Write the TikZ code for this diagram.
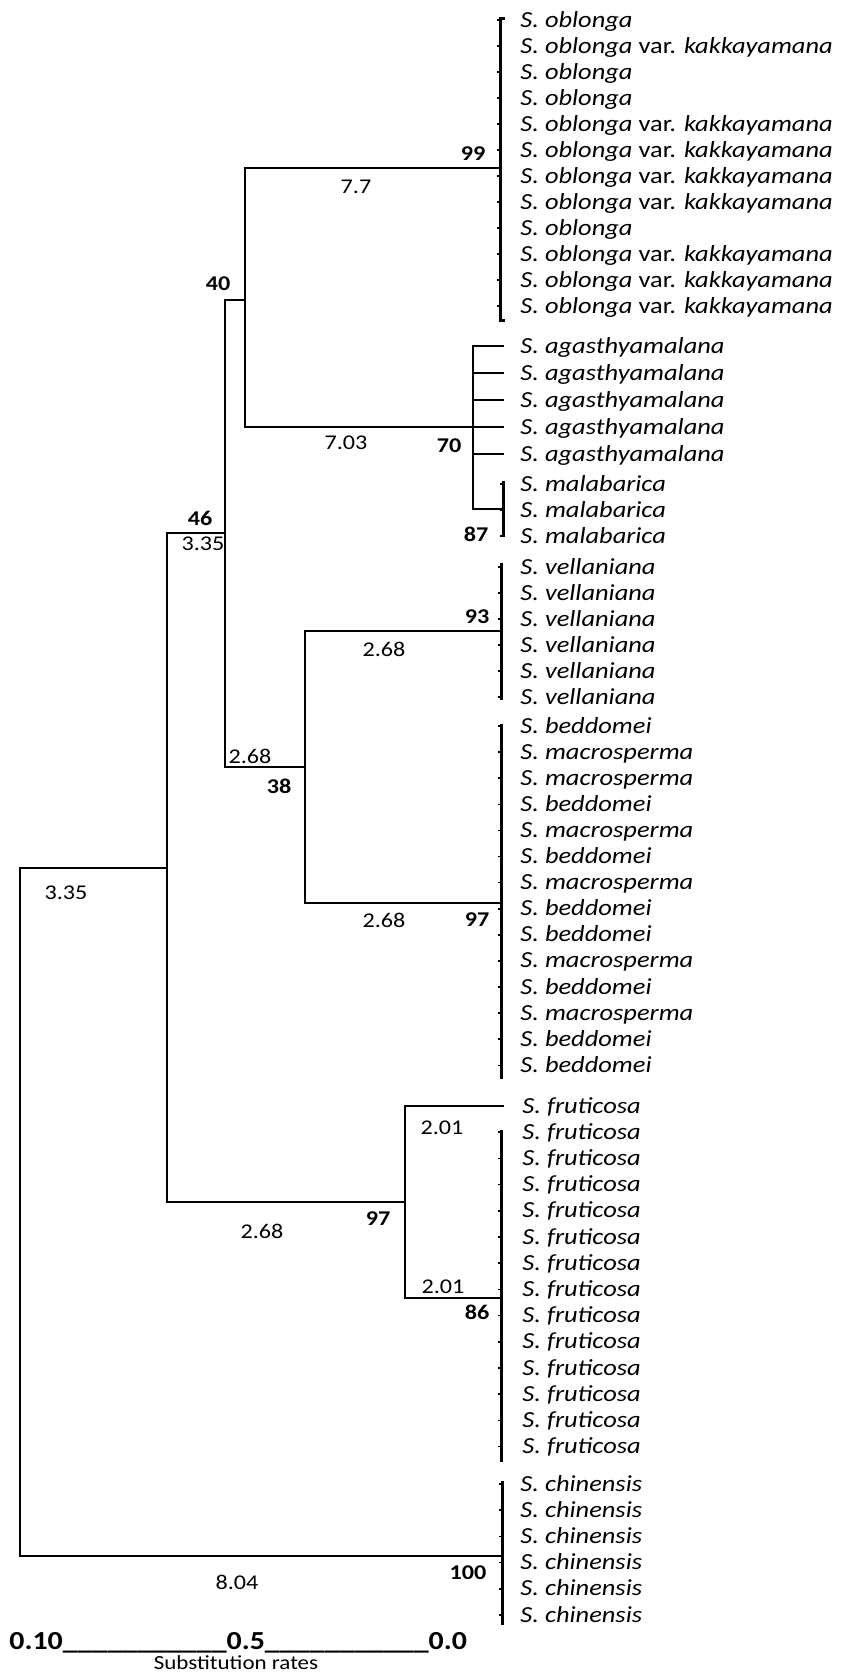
\documentclass[tikz,border=0pt]{standalone}
\usepackage{fontspec}
\setmainfont[FakeStretch=1.15]{Carlito}
\usetikzlibrary{calc}
\newcommand{\sobl}{\textit{S. oblonga}}
\newcommand{\skak}{\textit{S. oblonga} var. \textit{kakkayamana}}
\newcommand{\sbed}{\textit{S. beddomei}}
\newcommand{\smac}{\textit{S. macrosperma}}

\begin{document}
\begin{tikzpicture}[
  x=0.5pt, y=-0.5pt,
  branch/.style={line width=1pt, black},
  bar/.style={line width=1.5pt, black},
  tick/.style={line width=0.8pt, black},
  taxon/.style={anchor=base west, inner sep=0pt, font=\fontsize{11.5}{13}\selectfont},
  blen/.style={inner sep=0pt, font=\fontsize{10.5}{12}\selectfont},
  boot/.style={inner sep=0pt, font=\fontsize{10.5}{12}\selectfont\bfseries}
]
\useasboundingbox (0,0) rectangle (841,1672);

% internal nodes
\coordinate (root) at (20,1212);
\coordinate (nA) at (167,868);
\coordinate (chin) at (502,1556);
\coordinate (n46) at (225,533);
\coordinate (nB) at (405,1202);
\coordinate (n40) at (245,300);
\coordinate (n38) at (305,767);
\coordinate (n99) at (500,168);
\coordinate (n70) at (473,427);
\coordinate (n93) at (501,631);
\coordinate (n97) at (501,903);
\coordinate (n87) at (503,509);
\coordinate (n86) at (501,1298);
\coordinate (fru1) at (504,1106);

% bars
\coordinate (ob-top) at (500,18);   \coordinate (ob-bot) at (500,320);
\coordinate (ma-top) at (503,481);  \coordinate (ma-bot) at (503,537);
\coordinate (ve-top) at (501,563);  \coordinate (ve-bot) at (501,700);
\coordinate (be-top) at (501,724);  \coordinate (be-bot) at (501,1079);
\coordinate (fr-top) at (501,1130); \coordinate (fr-bot) at (501,1462);
\coordinate (ch-top) at (502,1481); \coordinate (ch-bot) at (502,1625);

\draw[bar] ($(ob-top)+(5,0)$) -- (ob-top) -- (ob-bot) -- ++(5,0);
\draw[bar] (ma-top) -- (ma-bot);
\draw[bar] (ve-top) -- (ve-bot);
\draw[bar] (be-top) -- (be-bot);
\draw[bar] (fr-top) -- (fr-bot);
\draw[bar] (ch-top) -- (ch-bot);

% branches
\draw[branch] (nA) -| (root) |- (chin);
\draw[branch] (n46) -| (nA) |- (nB);
\draw[branch] (n40) -| (n46) |- (n38);
\draw[branch] (n99) -| (n40) |- (n70);
\draw[branch] (n93) -| (n38) |- (n97);
\draw[branch] (fru1) -| (nB) |- (n86);

% taxa
\foreach \lab [count=\i] in {\sobl,\skak,\sobl,\sobl,\skak,\skak,\skak,\skak,\sobl,\skak,\skak,\skak} {
  \node[taxon] (ob\i) at (520,{20+26*(\i-1)+7}) {\lab};
  \draw[tick] ($(ob\i.base -| ob-top)+(-3,-7)$) -- ++(3,0);
}
\foreach \i in {1,...,5} {
  \coordinate (ag\i) at (504,{346+27*(\i-1)});
  \node[taxon] (agl\i) at ($(ag\i)+(16,7)$) {\textit{S. agasthyamalana}};
}
\draw[branch] (ag1) -| (n70) |- (n87);
\foreach \i in {2,...,5} \draw[branch] (ag\i) -- (ag\i -| n70);
\foreach \i in {1,...,3} {
  \node[taxon] (ma\i) at (520,{484+26*(\i-1)+7}) {\textit{S. malabarica}};
  \draw[tick] ($(ma\i.base -| ma-top)+(-3,-7)$) -- ++(3,0);
}
\foreach \i in {1,...,6} {
  \node[taxon] (ve\i) at (520,{567+26*(\i-1)+7}) {\textit{S. vellaniana}};
  \draw[tick] ($(ve\i.base -| ve-top)+(-3,-7)$) -- ++(3,0);
}
\foreach \lab [count=\i] in {\sbed,\smac,\smac,\sbed,\smac,\sbed,\smac,\sbed,\sbed,\smac,\sbed,\smac,\sbed,\sbed} {
  \node[taxon] (be\i) at (520,{726+26.1*(\i-1)+7}) {\lab};
  \draw[tick] ($(be\i.base -| be-top)+(-3,-7)$) -- ++(3,0);
}
\node[taxon] (fr1) at (522,1113) {\textit{S. fruticosa}};
\foreach \i in {2,...,14} {
  \node[taxon] (fr\i) at (522,{1106+26.2*(\i-1)+7}) {\textit{S. fruticosa}};
  \draw[tick] ($(fr\i.base -| fr-top)+(-3,-7)$) -- ++(3,0);
}
\foreach \i in {1,...,6} {
  \node[taxon] (ch\i) at (520,{1484+26.2*(\i-1)+7}) {\textit{S. chinensis}};
  \draw[tick] ($(ch\i.base -| ch-top)+(-3,-7)$) -- ++(3,0);
}

% support values
\node[boot] (b99) at (473,154) {99};
\node[boot] (b40) at (218,284) {40};
\node[boot] (b70) at (449,446) {70};
\node[boot] (b87) at (476,534) {87};
\node[boot] (b46) at (200,518) {46};
\node[boot] (b93) at (477,617) {93};
\node[boot] (b38) at (279,786) {38};
\node[boot] (b97a) at (477,920) {97};
\node[boot] (b97b) at (378,1219) {97};
\node[boot] (b86) at (477,1312) {86};
\node[boot] (b100) at (468,1573) {100};

% branch lengths
\node[blen] (l77) at (356,187) {7.7};
\node[blen] (l703) at (346,443) {7.03};
\node[blen] (l335a) at (203,544) {3.35};
\node[blen] (l268a) at (384,649) {2.68};
\node[blen] (l268b) at (250,756) {2.68};
\node[blen] (l268c) at (384,920) {2.68};
\node[blen] (l335b) at (66,893) {3.35};
\node[blen] (l268d) at (262,1231) {2.68};
\node[blen] (l201a) at (442,1128) {2.01};
\node[blen] (l201b) at (443,1287) {2.01};
\node[blen] (l804) at (237,1582) {8.04};

% scale
\node[anchor=base west, inner sep=0pt, font=\fontsize{13}{15}\selectfont\bfseries] (scale) at (9,1649)
  {0.10\_\_\_\_\_\_\_\_\_\_\_0.5\_\_\_\_\_\_\_\_\_\_\_0.0};
\node[inner sep=0pt, font=\fontsize{10}{12}\selectfont] (rates) at (236,1663) {Substitution rates};

\end{tikzpicture}
\end{document}
